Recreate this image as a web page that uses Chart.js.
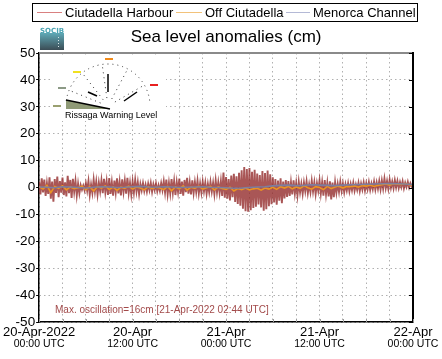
<!DOCTYPE html>
<html>
<head>
<meta charset="utf-8">
<title>Sea level anomalies</title>
<script src="https://cdn.jsdelivr.net/npm/chart.js@4.4.1/dist/chart.umd.min.js"></script>
<style>
  html, body { margin: 0; padding: 0; background: #fff; }
  canvas { display: block; }
</style>
</head>
<body>
<canvas id="chart" width="442" height="359"></canvas>
<script>
// x axis is hours since 20-Apr-2022 00:00 UTC, labels every 12 h
const dayLabels = ["20-Apr-2022", "20-Apr", "21-Apr", "21-Apr", "22-Apr"];
const timeLabels = ["00:00 UTC", "12:00 UTC", "00:00 UTC", "12:00 UTC", "00:00 UTC"];
const seriesNames = ["Ciutadella Harbour", "Off Ciutadella", "Menorca Channel"];
const legendColors = ["#d98080", "#f2c27a", "#b4b9d6"];
const maxNote = "Max. oscillation=16cm [21-Apr-2022 02:44 UTC]";

// Ciutadella Harbour, one value every 10 minutes (cm)
const harbour = [
  2.1,-2.6,3.4,-1.8,2.9,-3.1,1.6,-2.4,3.8,-4.2,2.2,-5.3,
  3.1,-2.0,4.1,-3.6,2.4,-1.9,3.7,-2.8,1.9,-3.3,4.3,-2.1,
  2.8,-3.9,3.2,-1.6,2.5,-2.9,1.4,-2.2,0.9,-0.8,0.7,-1.1,
  1.6,-1.2,2.4,-2.7,1.1,-2.0,2.9,-1.5,2.2,-2.6,1.8,-1.4,
  2.7,-2.1,3.2,-1.7,2.3,-2.8,3.5,-2.4,1.9,-3.0,2.6,-1.8,
  3.4,-2.2,2.1,-2.9,3.0,-1.6,2.5,-2.3,3.6,-2.0,1.7,-2.6,
  2.2,-1.9,2.8,-1.5,1.9,-2.4,1.3,-1.1,1.6,-1.3,1.0,-1.5,
  1.4,-1.0,1.7,-1.6,1.2,-0.9,1.5,-1.4,0.8,-1.2,1.6,-1.0,
  2.3,-1.8,2.9,-2.5,1.7,-2.2,3.1,-1.9,2.4,-2.8,2.0,-1.6,
  3.3,-2.4,2.2,-3.0,2.8,-1.7,3.6,-2.3,1.9,-2.6,2.7,-2.0,
  2.0,-1.6,2.5,-2.2,1.5,-1.9,2.2,-1.4,1.8,-2.3,1.3,-1.7,
  2.1,-1.5,1.7,-2.4,2.6,-1.8,1.9,-2.0,2.3,-3.1,5.6,-3.8,
  3.9,-4.2,3.1,-4.8,4.4,-3.6,5.1,-5.4,4.2,-6.1,5.5,-6.8,
  6.4,-7.9,7.6,-8.8,6.9,-9.0,7.2,-8.4,5.8,-7.6,6.6,-7.1,
  5.2,-6.3,4.6,-7.4,6.1,-8.6,5.4,-8.1,6.3,-7.0,4.9,-6.2,
  3.8,-5.6,3.1,-6.4,2.6,-4.9,3.4,-5.8,2.2,-4.1,2.8,-3.5,
  2.4,-3.1,1.9,-2.6,2.7,-2.2,1.6,-2.9,2.1,-1.8,1.4,-2.3,
  1.8,-1.4,2.3,-2.0,1.2,-1.7,2.5,-1.5,1.9,-2.4,1.6,-1.2,
  2.6,-2.2,1.9,-3.0,2.8,-2.5,1.7,-3.3,2.3,-4.4,1.8,-3.6,
  1.9,-2.0,1.4,-1.6,2.1,-1.3,1.5,-1.8,1.2,-1.1,1.6,-1.4,
  1.3,-1.0,1.8,-1.2,1.1,-0.9,1.7,-1.3,1.4,-0.8,1.9,-1.1,
  1.6,-0.7,2.0,-0.9,1.5,-0.6,2.2,-0.8,1.9,-0.5,2.4,-0.7,
  2.6,-0.4,3.3,-0.2,2.4,-0.5,2.9,-0.1,2.2,-0.3,2.7,0.0,
  2.4,-0.2,2.0,0.1,2.3,-0.3,1.8,0.2,2.1,0.0,1.6,0.4,
  1.0
];

// Off Ciutadella, every 30 minutes
const offshore = [
  0.3,-0.6,0.8,-1.9,0.4,-0.3,0.6,-0.9,
  0.2,-0.4,-0.1,0.5,-0.8,0.3,-1.3,0.4,
  -0.2,0.6,-0.7,0.2,-1.1,0.1,-0.3,0.5,
  -0.6,0.2,-0.2,-0.9,0.3,-0.4,0.1,-0.2,
  -0.8,0.4,-1.2,0.2,-0.5,0.6,-1.0,0.1,
  -0.3,0.5,-0.6,-0.1,0.4,-0.9,0.2,-0.4,
  -0.7,0.1,-1.3,-0.4,-0.8,-0.2,-0.9,-0.5,
  -0.3,-1.0,-0.2,-0.6,0.1,-0.7,0.3,-0.2,
  0.4,-0.5,0.2,-0.3,0.6,-0.1,-0.6,0.3,
  0.0,-0.8,0.4,-0.4,0.2,0.5,-0.2,0.4,
  0.3,0.6,0.1,0.7,0.5,0.9,0.4,0.8,
  1.0,1.3,0.9,1.4,1.2,1.1,1.5,1.0,
  0.7
];

// Menorca Channel, hourly
const channel = [
  0.2,0.1,-0.1,0.3,0.2,0.0,-0.2,0.1,0.3,0.2,0.0,0.1,
  0.3,0.4,0.2,0.1,0.3,0.2,0.0,0.1,0.2,0.3,0.1,0.0,
  -0.1,-0.3,-0.2,0.0,0.2,0.3,0.6,0.8,0.9,0.7,0.8,1.0,
  0.9,0.8,0.7,0.9,1.0,1.1,1.2,1.3,1.4,1.5,1.4,1.3,
  1.0
];

function toPoints(values, stepHours) {
  return values.map((v, i) => ({ x: i * stepHours, y: v }));
}

Chart.defaults.font.family = '"Liberation Sans", Arial, sans-serif';

// legend in a box, frame, logo, warning gauge and the note at the bottom
const extras = {
  id: 'extras',
  afterDraw(chart) {
    const ctx = chart.ctx;
    const area = chart.chartArea;
    const xs = chart.scales.x;
    const ys = chart.scales.y;
    ctx.save();

    // top (grey) and right (black) edges of the frame
    ctx.lineWidth = 2;
    ctx.strokeStyle = '#8a8a8a';
    ctx.beginPath(); ctx.moveTo(area.left, area.top); ctx.lineTo(area.right, area.top); ctx.stroke();
    ctx.strokeStyle = '#000';
    ctx.beginPath(); ctx.moveTo(area.right, area.top - 1); ctx.lineTo(area.right, area.bottom); ctx.stroke();

    ctx.lineWidth = 1;
    ys.ticks.forEach(t => {
      const py = Math.round(ys.getPixelForValue(t.value)) + 0.5;
      ctx.beginPath(); ctx.moveTo(area.right - 4, py); ctx.lineTo(area.right, py); ctx.stroke();
    });
    ctx.strokeStyle = '#999';
    xs.ticks.forEach(t => {
      const px = Math.round(xs.getPixelForValue(t.value)) + 0.5;
      ctx.beginPath(); ctx.moveTo(px, area.bottom - 3); ctx.lineTo(px, area.bottom); ctx.stroke();
    });

    // legend
    ctx.strokeStyle = '#000';
    ctx.strokeRect(32.5, 3.5, 385, 18);
    const slots = [[37, 62], [176, 202], [286, 310]];
    ctx.font = '13px "Liberation Sans"';
    ctx.textBaseline = 'alphabetic';
    seriesNames.forEach((name, i) => {
      const [x0, x1] = slots[i];
      ctx.strokeStyle = legendColors[i];
      ctx.beginPath(); ctx.moveTo(x0, 12.5); ctx.lineTo(x1, 12.5); ctx.stroke();
      ctx.fillStyle = '#000';
      ctx.fillText(name, x1 + 3, 17);
    });

    // logo
    const g = ctx.createLinearGradient(0, 33, 0, 50);
    g.addColorStop(0, '#5fa9b6');
    g.addColorStop(1, '#3b4c55');
    ctx.fillStyle = g;
    ctx.fillRect(40, 33, 24, 17);
    ctx.fillStyle = '#4aa3b2';
    ctx.font = 'bold 7px "DejaVu Sans"';
    ctx.fillText('SOCIB', 40, 32.5);
    ctx.fillStyle = '#d8e4e8';
    for (let i = 0; i < 4; i++) ctx.fillRect(58, 37 + i * 3, 1, 1);

    // rissaga gauge
    const gx = 108, gy = 106, r = 42;
    ctx.fillStyle = '#fff';
    ctx.fillRect(52, 55, 114, 66);
    ctx.strokeStyle = '#333';
    ctx.setLineDash([1, 4]);
    ctx.beginPath(); ctx.arc(gx, gy, r, Math.PI * 1.04, Math.PI * 1.96); ctx.stroke();
    [158, 128, 98, 62, 30].forEach(a => {
      const rad = a * Math.PI / 180;
      ctx.beginPath();
      ctx.moveTo(gx + 8 * Math.cos(rad), gy - 8 * Math.sin(rad));
      ctx.lineTo(gx + r * Math.cos(rad), gy - r * Math.sin(rad));
      ctx.stroke();
    });
    ctx.setLineDash([]);
    [[105, 58, '#f08a1a'], [73, 71, '#f0e020'], [58, 87, '#8c9a86'], [53, 105, '#9aa070'], [150, 84, '#e82020']]
      .forEach(([lx, ly, c]) => { ctx.fillStyle = c; ctx.fillRect(lx, ly, 8, 2); });
    ctx.fillStyle = '#8f9a76';
    ctx.beginPath(); ctx.moveTo(66, 100); ctx.lineTo(110, 109); ctx.lineTo(66, 109); ctx.closePath(); ctx.fill();
    ctx.strokeStyle = '#000';
    ctx.lineWidth = 1.5;
    ctx.beginPath(); ctx.moveTo(66, 100); ctx.lineTo(110, 109); ctx.stroke();
    ctx.beginPath(); ctx.moveTo(124, 101); ctx.lineTo(137, 92); ctx.stroke();
    ctx.beginPath(); ctx.moveTo(108, 74); ctx.lineTo(108, 92); ctx.stroke();
    ctx.beginPath(); ctx.moveTo(88, 92); ctx.lineTo(97, 96); ctx.stroke();
    ctx.fillStyle = '#000';
    ctx.font = '9px "Liberation Sans"';
    ctx.fillText('Rissaga Warning Level', 65, 118);

    // max oscillation note
    ctx.fillStyle = '#a24a4a';
    ctx.font = '10px "Liberation Sans"';
    ctx.fillText(maxNote, 55, 313);
    ctx.restore();
  }
};

new Chart(document.getElementById('chart'), {
  type: 'line',
  data: {
    datasets: [
      { label: seriesNames[0], data: toPoints(harbour, 1 / 6), borderColor: 'rgba(145,38,38,0.78)', borderWidth: 1.9, order: 3 },
      { label: seriesNames[1], data: toPoints(offshore, 0.5), borderColor: '#eb9322', borderWidth: 1.6, order: 2 },
      { label: seriesNames[2], data: toPoints(channel, 1), borderColor: '#7c7fa0', borderWidth: 1.6, order: 1 }
    ]
  },
  options: {
    responsive: false,
    animation: false,
    events: [],
    devicePixelRatio: 1,
    elements: { point: { radius: 0 }, line: { tension: 0 } },
    layout: { padding: { left: 0, right: 29, top: 28, bottom: 0 } },
    plugins: {
      legend: { display: false },
      title: {
        display: true,
        text: 'Sea level anomalies (cm)',
        fullSize: false,
        color: '#000',
        font: { size: 17, weight: 'normal', lineHeight: 1 },
        padding: { top: 0.5, bottom: 7.5 }
      },
      tooltip: { enabled: false }
    },
    scales: {
      x: {
        type: 'linear',
        position: 'bottom',
        min: 0,
        max: 48,
        ticks: {
          stepSize: 3, autoSkip: false, maxRotation: 0, color: '#000',
          font: { size: 13 }, padding: 3,
          callback: v => (v % 12 === 0 ? dayLabels[v / 12] : '')
        },
        grid: { color: '#b0b0b0', drawTicks: false },
        border: { color: '#000', width: 1.5, dash: [1.5, 3] },
        afterFit: s => { s.height = 16; }
      },
      x2: {
        type: 'linear',
        position: 'bottom',
        min: 0,
        max: 48,
        ticks: {
          stepSize: 12, autoSkip: false, maxRotation: 0, color: '#000',
          font: { size: 10.5 }, padding: 0,
          callback: v => timeLabels[v / 12]
        },
        grid: { display: false, drawTicks: false },
        border: { display: false },
        afterFit: s => { s.height = 21; }
      },
      y: {
        min: -50,
        max: 50,
        ticks: { stepSize: 10, color: '#000', font: { size: 13.5 }, padding: 1 },
        grid: { color: '#b0b0b0', tickLength: 3, tickColor: '#000', tickBorderDash: [] },
        border: { color: '#000', width: 1.5, dash: [1.5, 3] },
        afterFit: s => { s.width = 36; }
      }
    }
  },
  plugins: [extras]
});
</script>
</body>
</html>
